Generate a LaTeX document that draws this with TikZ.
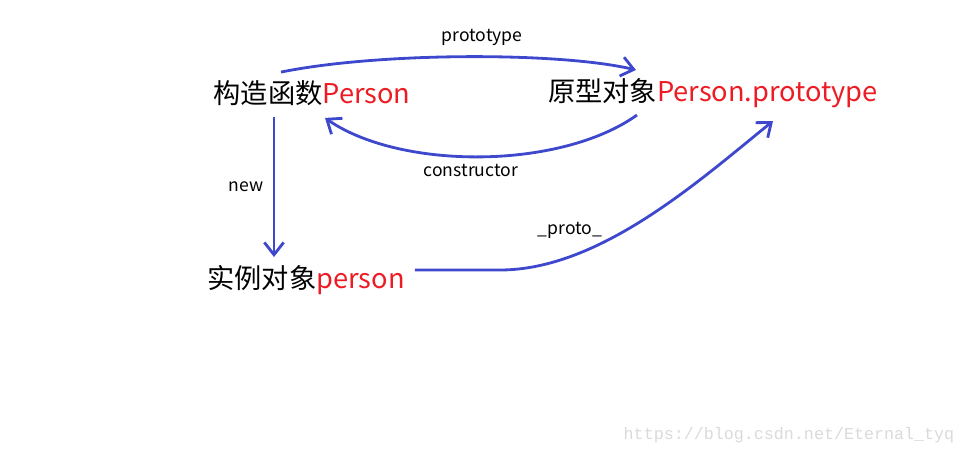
\documentclass[tikz,border=0pt]{standalone}
\usepackage{fontspec}
\setmainfont{Noto Sans CJK SC}
\newfontfamily\wmfont{Liberation Mono}
\usetikzlibrary{arrows.meta}
\definecolor{linkBlue}{RGB}{62,72,204}
\definecolor{nameRed}{RGB}{237,28,36}
\definecolor{wmGray}{RGB}{218,218,218}
\begin{document}
\begin{tikzpicture}[x=0.02cm,y=-0.02cm]
\tikzset{
    protoNode/.style={inner sep=0pt,font=\fontsize{15.5}{18}\selectfont},
    protoLabel/.style={inner sep=0pt,font=\fontsize{10}{12}\selectfont},
    protoLink/.style={draw=linkBlue,line width=1.6pt,-{Straight Barb[length=7pt,width=11pt]}}
}
\useasboundingbox (0,0) rectangle (965,454);

% constructor, prototype and instance
\node[protoNode] (ctor) at (312,93) {构造函数\textcolor{nameRed}{Person}};
\node[protoNode] (proto) at (713,93) {原型对象\textcolor{nameRed}{Person.prototype}};
\node[protoNode] (inst) at (306,280) {实例对象\textcolor{nameRed}{person}};

% links
\draw[protoLink] ([shift={(-31,-8)}]ctor.north) .. controls (380,52) and (560,52) .. ([shift={(-77,-8)}]proto.north);
\draw[protoLink] ([shift={(-76,7)}]proto.south) .. controls (560,170) and (400,170) .. ([shift={(13,12)}]ctor.south);
\draw[protoLink] ([shift={(-38,11)}]ctor.south) -- ([shift={(-32,-8)}]inst.north);
\draw[protoLink] ([shift={(10,-10)}]inst.east) -- ++(85,0) .. controls +(100,0) and (700,180) .. ([shift={(60,13)}]proto.south);

% link labels
\node[protoLabel] (lblProto) at (482,37) {prototype};
\node[protoLabel] (lblCtor) at (471,170) {constructor};
\node[protoLabel] (lblNew) at (246,187) {new};
\node[protoLabel] (lblDunder) at (570,230) {\_proto\_};

% watermark
\node[inner sep=0pt,text=wmGray,font=\wmfont\fontsize{9.5}{11}\selectfont] (wm) at (789,435) {https://blog.csdn.net/Eternal\_tyq};
\end{tikzpicture}
\end{document}
